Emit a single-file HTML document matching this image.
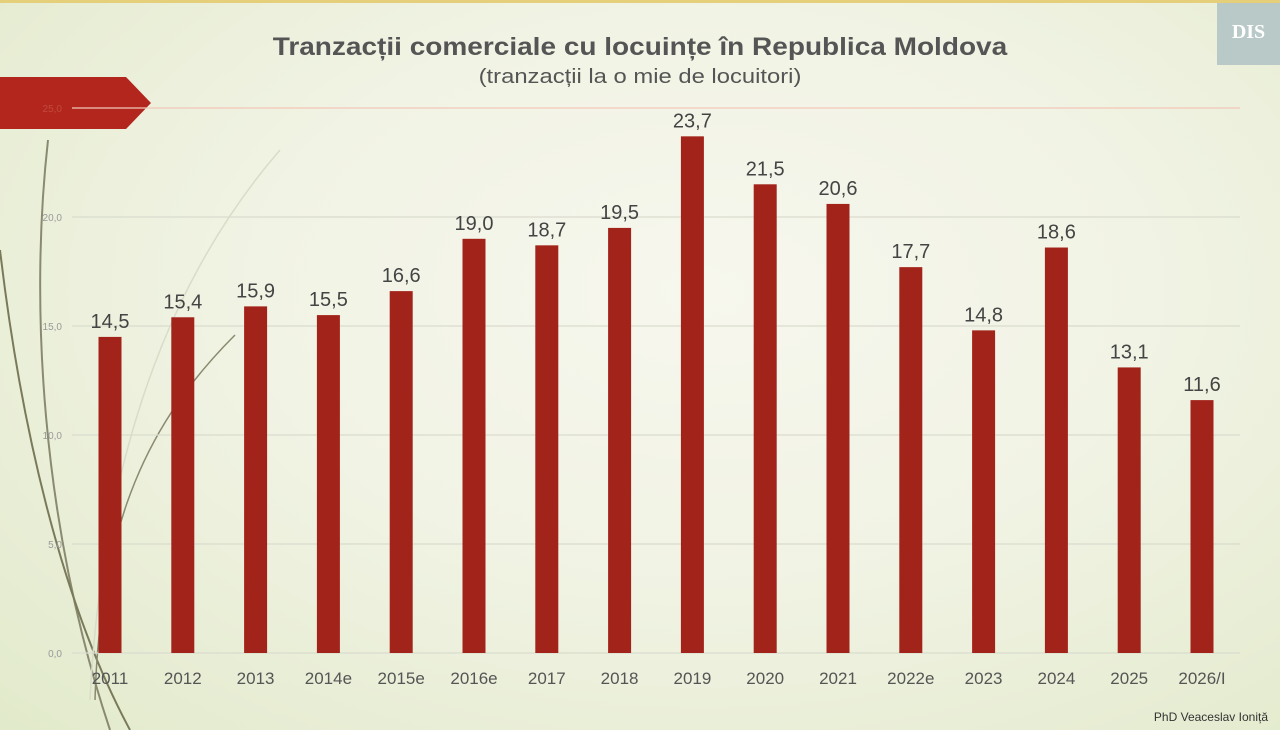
<!DOCTYPE html>
<html><head><meta charset="utf-8"><style>
html,body{margin:0;padding:0}
body{width:1280px;height:730px;overflow:hidden;position:relative;font-family:"Liberation Sans",sans-serif;
background:radial-gradient(ellipse at 55% 40%,#f7f7ee 0%,#f1f3e4 45%,#e2eacb 100%);}
</style></head><body>
<div style="position:absolute;left:0;top:0;width:1280px;height:3px;background:#e6cf7a"></div>
<div style="position:absolute;left:1217px;top:3px;width:63px;height:62px;background:#b9c9c8;color:#fff;font:bold 20px 'Liberation Serif',serif;text-align:center;line-height:58px">DIS</div>
<svg width="1280" height="730" style="position:absolute;left:0;top:0">
<path d="M48 140 C30 300 40 520 110 730" stroke="#8a8a70" stroke-width="2" fill="none"/>
<path d="M0 250 C20 420 60 600 130 730" stroke="#7a7a5a" stroke-width="2" fill="none"/>
<path d="M280 150 C150 300 100 500 90 700" stroke="#d8dcc8" stroke-width="1.5" fill="none"/>
<path d="M235 335 C150 420 100 520 95 700" stroke="#8a8a70" stroke-width="1.5" fill="none"/>
<polygon points="0,77 126,77 151,103 126,129 0,129" fill="#b3261e"/>
<g id="g"></g>
</svg>
<div style="position:absolute;left:0;width:1280px;top:33px;text-align:center;font-size:25px;font-weight:bold;color:#555;transform:scaleX(1.12);transform-origin:640px 0">Tranzacții comerciale cu locuințe în Republica Moldova</div>
<div style="position:absolute;left:0;width:1280px;top:66px;text-align:center;font-size:20px;color:#555;transform:scaleX(1.19);transform-origin:640px 0">(tranzacții la o mie de locuitori)</div>
<div style="position:absolute;right:12px;top:710px;font-size:12px;color:#333">PhD Veaceslav Ioniță</div>
<script>
const categories=["2011","2012","2013","2014e","2015e","2016e","2017","2018","2019","2020","2021","2022e","2023","2024","2025","2026/I"];
const values=[14.5,15.4,15.9,15.5,16.6,19.0,18.7,19.5,23.7,21.5,20.6,17.7,14.8,18.6,13.1,11.6];
const ticks=[0,5,10,15,20,25];
const tickLabels=["0,0","5,0","10,0","15,0","20,0","25,0"];
const ns="http://www.w3.org/2000/svg",g=document.getElementById('g');
const y=v=>653-v*21.8, x=i=>110+i*72.8;
function mk(t,a,txt){const e=document.createElementNS(ns,t);for(const k in a)e.setAttribute(k,a[k]);if(txt!=null)e.textContent=txt;g.appendChild(e);return e;}
ticks.forEach((t,i)=>{
 const l=mk('line',{x1:72,x2:1240,y1:y(t),y2:y(t),stroke:t==25?'#f3c7b8':'#d9dccd','stroke-width':1.2});
 
 
 const tx=mk('text',{x:62,y:y(t)+4,'text-anchor':'end','font-size':10,fill:t==25?'#c04a3e':'#999','font-family':'Liberation Sans'},tickLabels[i]);
 
 
});
values.forEach((v,i)=>{
 const r=mk('rect',{x:x(i)-11.5,y:y(v),width:23,height:y(0)-y(v),fill:'#a2231a'});
 
 
 const t=mk('text',{x:x(i),y:y(v)-9,'text-anchor':'middle','font-size':20,fill:'#444','font-family':'Liberation Sans'},v.toFixed(1).replace('.',','));
 
 
 const c=mk('text',{x:x(i),y:684,'text-anchor':'middle','font-size':17,fill:'#555','font-family':'Liberation Sans'},categories[i]);
 
 
});
</script>
</body></html>
